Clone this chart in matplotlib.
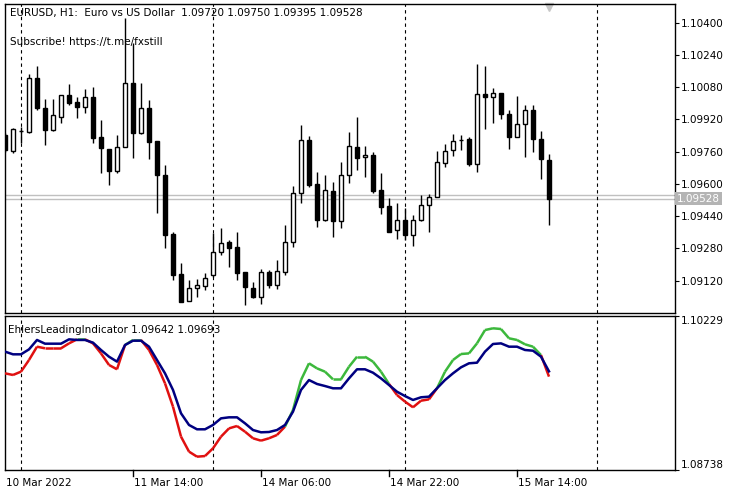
import matplotlib
matplotlib.use("Agg")
import matplotlib.pyplot as plt
import matplotlib.transforms as mtransforms
from matplotlib.collections import LineCollection
import numpy as np

# EURUSD H1 candles
opens = [1.09843, 1.09764, 1.09863, 1.09858, 1.10126, 1.09977, 1.09868, 1.09932, 1.10041, 1.10007,
         1.09982, 1.10031, 1.09833, 1.09774, 1.09664, 1.09783, 1.10101, 1.09853, 1.09977, 1.09813,
         1.09645, 1.09352, 1.09154, 1.09020, 1.09084, 1.09094, 1.09149, 1.09263, 1.09312, 1.09287,
         1.09163, 1.09084, 1.09040, 1.09163, 1.09099, 1.09163, 1.09312, 1.09555, 1.09818, 1.09600,
         1.09421, 1.09565, 1.09416, 1.09645, 1.09783, 1.09734, 1.09744, 1.09570, 1.09491, 1.09372,
         1.09421, 1.09347, 1.09421, 1.09496, 1.09535, 1.09704, 1.09769, 1.09818, 1.09823, 1.09699,
         1.10046, 1.10031, 1.10051, 1.09947, 1.09833, 1.09898, 1.09967, 1.09823, 1.09720]
highs = [1.09853, 1.09878, 1.09883, 1.10146, 1.10185, 1.10022, 1.10022, 1.10041, 1.10096, 1.10031,
         1.10071, 1.10081, 1.09917, 1.09774, 1.09843, 1.10423, 1.10299, 1.10101, 1.10017, 1.09813,
         1.09694, 1.09362, 1.09208, 1.09124, 1.09129, 1.09159, 1.09357, 1.09382, 1.09322, 1.09362,
         1.09163, 1.09114, 1.09178, 1.09173, 1.09223, 1.09397, 1.09590, 1.09893, 1.09838, 1.09660,
         1.09645, 1.09610, 1.09709, 1.09858, 1.09932, 1.09788, 1.09759, 1.09655, 1.09530, 1.09506,
         1.09481, 1.09446, 1.09545, 1.09550, 1.09764, 1.09798, 1.09848, 1.09843, 1.09833, 1.10195,
         1.10185, 1.10076, 1.10051, 1.09967, 1.10036, 1.09992, 1.09992, 1.09863, 1.09750]
lows = [1.09759, 1.09754, 1.09803, 1.09853, 1.09967, 1.09793, 1.09863, 1.09902, 1.09992, 1.09927,
        1.09952, 1.09803, 1.09655, 1.09595, 1.09655, 1.09783, 1.09729, 1.09848, 1.09724, 1.09456,
        1.09282, 1.09124, 1.09015, 1.09020, 1.09040, 1.09074, 1.09139, 1.09248, 1.09188, 1.09124,
        1.09000, 1.09035, 1.09005, 1.09084, 1.09079, 1.09149, 1.09287, 1.09506, 1.09585, 1.09387,
        1.09416, 1.09337, 1.09382, 1.09605, 1.09669, 1.09635, 1.09555, 1.09451, 1.09362, 1.09327,
        1.09322, 1.09292, 1.09416, 1.09362, 1.09535, 1.09684, 1.09739, 1.09769, 1.09689, 1.09660,
        1.09873, 1.09902, 1.09922, 1.09774, 1.09833, 1.09734, 1.09759, 1.09625, 1.09395]
closes = [1.09769, 1.09873, 1.09863, 1.10126, 1.09977, 1.09868, 1.09942, 1.10041, 1.10002, 1.09982,
          1.10031, 1.09828, 1.09779, 1.09664, 1.09783, 1.10101, 1.09853, 1.09977, 1.09808, 1.09645,
          1.09347, 1.09149, 1.09015, 1.09084, 1.09099, 1.09134, 1.09263, 1.09307, 1.09282, 1.09159,
          1.09089, 1.09040, 1.09163, 1.09099, 1.09168, 1.09312, 1.09555, 1.09818, 1.09595, 1.09421,
          1.09570, 1.09416, 1.09645, 1.09788, 1.09729, 1.09744, 1.09565, 1.09486, 1.09362, 1.09421,
          1.09347, 1.09421, 1.09496, 1.09535, 1.09709, 1.09764, 1.09813, 1.09818, 1.09699, 1.10046,
          1.10031, 1.10051, 1.09947, 1.09833, 1.09898, 1.09967, 1.09823, 1.09724, 1.09528]

# Ehlers leading indicator: slow (blue) and leading (red/green) lines
ehlers_slow = [1.09884, 1.09858, 1.09858, 1.09906, 1.09997, 1.09961, 1.09961, 1.09961, 1.10003, 1.09997,
               1.09997, 1.09971, 1.09900, 1.09835, 1.09787, 1.09948, 1.09990, 1.09990, 1.09932, 1.09803,
               1.09674, 1.09513, 1.09287, 1.09174, 1.09132, 1.09132, 1.09174, 1.09238, 1.09248, 1.09248,
               1.09190, 1.09125, 1.09103, 1.09106, 1.09125, 1.09174, 1.09303, 1.09513, 1.09609, 1.09571,
               1.09551, 1.09529, 1.09529, 1.09625, 1.09713, 1.09713, 1.09680, 1.09625, 1.09561, 1.09496,
               1.09454, 1.09416, 1.09442, 1.09448, 1.09529, 1.09609, 1.09674, 1.09732, 1.09771, 1.09777,
               1.09884, 1.09958, 1.09964, 1.09932, 1.09932, 1.09900, 1.09893, 1.09835, 1.09693]
ehlers_lead = [1.09674, 1.09658, 1.09690, 1.09803, 1.09932, 1.09916, 1.09916, 1.09916, 1.09964, 1.10003,
               1.10003, 1.09964, 1.09867, 1.09755, 1.09713, 1.09948, 1.09997, 1.09997, 1.09900, 1.09755,
               1.09577, 1.09351, 1.09061, 1.08916, 1.08867, 1.08873, 1.08948, 1.09061, 1.09141, 1.09164,
               1.09109, 1.09045, 1.09022, 1.09045, 1.09077, 1.09158, 1.09319, 1.09609, 1.09771, 1.09722,
               1.09690, 1.09616, 1.09616, 1.09738, 1.09835, 1.09835, 1.09787, 1.09690, 1.09571, 1.09464,
               1.09400, 1.09345, 1.09409, 1.09422, 1.09529, 1.09690, 1.09803, 1.09861, 1.09867, 1.09964,
               1.10093, 1.10110, 1.10103, 1.10013, 1.09997, 1.09955, 1.09932, 1.09851, 1.09642]

price_ticks = [1.10400, 1.10240, 1.10080, 1.09920, 1.09760, 1.09600, 1.09440, 1.09280, 1.09120]
time_labels = ["10 Mar 2022", "11 Mar 14:00", "14 Mar 06:00", "14 Mar 22:00", "15 Mar 14:00"]
time_label_idx = [0, 16, 32, 48, 64]
day_sep_idx = [2, 26, 50, 74]

FS = 7.5
n = len(opens)
idx = np.arange(n)

fig = plt.figure(figsize=(7.5, 5), dpi=100)
ax = fig.add_axes([5 / 750, 187 / 500, 670 / 750, 309 / 500])
ax2 = fig.add_axes([5 / 750, 30 / 500, 670 / 750, 154 / 500])

# candles
for i in idx:
    o, h, l, c = opens[i], highs[i], lows[i], closes[i]
    ax.vlines(i, l, h, color="black", lw=1, zorder=2)
    lo, hi = min(o, c), max(o, c)
    face = "white" if c > o else "black"
    ax.bar(i, max(hi - lo, 0.00002), bottom=lo, width=0.6, facecolor=face,
           edgecolor="black", linewidth=1, zorder=3)

# bid/ask lines
ax.axhline(closes[-1], color="#c0c0c0", lw=1, zorder=1)
ax.axhline(closes[-1] + 0.00018, color="#c0c0c0", lw=1, zorder=1)

for a in (ax, ax2):
    for d in day_sep_idx:
        a.axvline(d, color="black", lw=0.8, ls=(0, (3, 3)), zorder=1)
    a.set_xlim(0, 83.75)
    a.set_xticks([])
    a.yaxis.tick_right()
    for s in a.spines.values():
        s.set_linewidth(1)
    a.tick_params(axis="y", labelsize=FS, length=3, pad=1)

ax.set_ylim(1.08960, 1.10493)
ax.set_yticks(price_ticks)
ax.set_yticklabels([f"{p:.5f}" for p in price_ticks])
ax.text(1.003, closes[-1], f"{closes[-1]:.5f}", transform=mtransforms.blended_transform_factory(ax.transAxes, ax.transData),
        fontsize=FS, color="white", va="center", ha="left",
        bbox=dict(boxstyle="square,pad=0.15", fc="#b4b4b4", ec="none"), clip_on=False)

ax.text(0.0075, 0.972, "EURUSD, H1:  Euro vs US Dollar  1.09720 1.09750 1.09395 1.09528",
        transform=ax.transAxes, fontsize=FS, va="center")
ax.text(0.0075, 0.878, "Subscribe! https://t.me/fxstill", transform=ax.transAxes, fontsize=FS, va="center")
ax.plot([68], [1.10480], marker="v", color="#c8c8c8", ms=6, clip_on=False)

# indicator
pts = np.column_stack([idx, ehlers_lead])
segs = np.stack([pts[:-1], pts[1:]], axis=1)
above = [(ehlers_lead[i] + ehlers_lead[i + 1]) > (ehlers_slow[i] + ehlers_slow[i + 1]) for i in range(n - 1)]
cols = ["#3cb83c" if a else "#e01010" for a in above]
ax2.add_collection(LineCollection(segs, colors=cols, linewidths=1.8, zorder=3))
ax2.plot(idx, ehlers_slow, color="#000080", lw=1.8, zorder=4)
ax2.set_ylim(1.08738, 1.10229)
ax2.set_yticks([1.10229, 1.08738])
ax2.set_yticklabels(["1.10229", "1.08738"])
ax2.get_yticklabels()[0].set_va("top")
ax2.get_yticklabels()[1].set_va("bottom")
ax2.text(0.0045, 0.91, "EhlersLeadingIndicator 1.09642 1.09693", transform=ax2.transAxes, fontsize=FS, va="center")

# time axis
trans = mtransforms.blended_transform_factory(ax2.transData, fig.transFigure)
for k, (ti, lab) in enumerate(zip(time_label_idx, time_labels)):
    if k > 0:
        ax2.plot([ti, ti], [30 / 500, 24 / 500], color="black", lw=1, transform=trans, clip_on=False)
    ax2.text(ti + (0.15 if k == 0 else 0.1), 17 / 500, lab, transform=trans, fontsize=FS, va="center", ha="left")

fig.savefig("out.png", dpi=100)
